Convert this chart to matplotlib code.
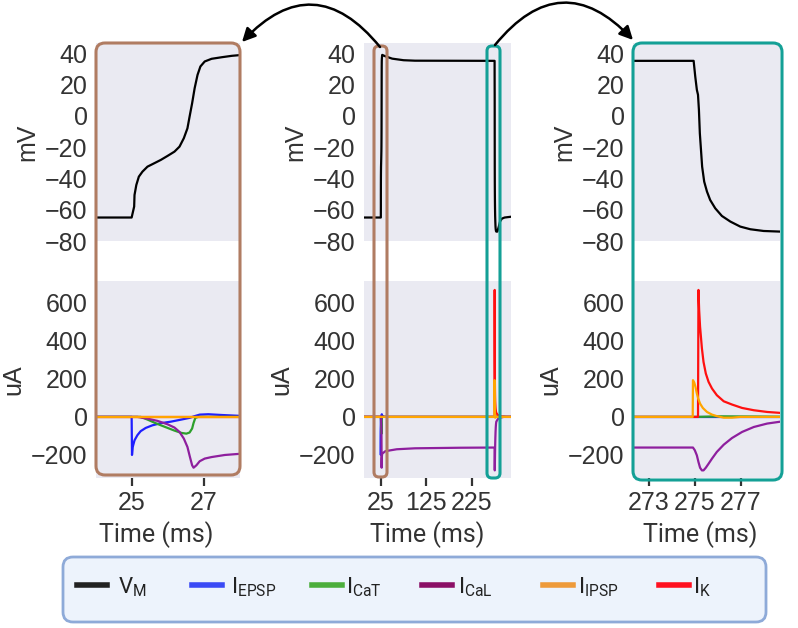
import matplotlib
matplotlib.use('Agg')
import matplotlib.pyplot as plt
from matplotlib.patches import FancyBboxPatch, FancyArrowPatch
from matplotlib.lines import Line2D

plt.rcParams['font.family'] = ['Liberation Sans', 'DejaVu Sans']
plt.rcParams['mathtext.fontset'] = 'custom'
plt.rcParams['mathtext.rm'] = 'Roboto'

# traces, time in ms
vm_t = [-12, 24.99, 25.06, 25.07, 25.12, 25.19, 25.29, 25.43, 25.62, 25.80, 25.99,
        26.18, 26.32, 26.44, 26.54, 26.60, 26.67, 26.74, 26.82, 26.90, 27.02, 27.21,
        27.49, 27.77, 28.06, 35, 50, 75, 100,
        274.94, 275.01, 275.08, 275.13, 275.17, 275.21, 275.26, 275.31, 275.40,
        275.52, 275.66, 275.88, 276.17, 276.54, 276.97, 277.41, 277.99, 278.72,
        281, 284, 287, 291, 297, 311]
vm = [-65, -65, -58, -50.6, -44.2, -38.9, -35.7, -32.5, -30.3, -28.2, -25.6,
      -22.9, -19.7, -14.3, -8, -0.5, 8, 17.6, 26.1, 31.5, 34.7, 36.4,
      37.4, 38.3, 38.9, 38, 36.5, 35.5, 35.2,
      35.1, 25.1, 16.6, 13.4, 3.8, -11.2, -21.8, -32.5, -42.1,
      -48.4, -53.8, -59.1, -64, -67.6, -70.8, -72.5, -73.6, -74,
      -74, -71, -67.5, -65.7, -65, -64.5]

epsp_t = [-12, 24.99, 25.0, 25.02, 25.07, 25.15, 25.24, 25.38, 25.57, 25.80, 26.08,
          26.37, 26.60, 26.74, 26.88, 27.12, 27.49, 28.06, 32, 40, 311]
epsp = [0, 0, -200, -158, -123, -96, -75, -58, -44, -33, -25,
        -14, -5, 4, 12, 14, 10, 5, 1, 0, 0]

cat_t = [-12, 25.24, 25.43, 25.62, 25.80, 25.99, 26.18, 26.37, 26.51, 26.60, 26.67,
         26.71, 26.76, 26.84, 275.1, 276, 278.7, 311]
cat = [0, 0, -14, -30, -44, -58, -72, -84, -88, -82, -61,
       -32, -5, 0, 0, 3, 1, 0]

cal_t = [-12, 25.15, 25.43, 25.71, 25.99, 26.18, 26.32, 26.44, 26.54, 26.61, 26.67,
         26.71, 26.79, 26.88, 27.02, 27.21, 27.58, 28.06, 35, 60, 100, 200,
         274.91, 274.99, 275.08, 275.15, 275.22, 275.30, 275.37, 275.47, 275.59,
         275.74, 275.95, 276.25, 276.61, 277.05, 277.56, 278.14, 278.72,
         282, 287, 295, 311]
cal = [0, 0, -9, -21, -39, -56, -79, -114, -158, -211, -254,
       -267, -254, -233, -219, -211, -200, -193, -180, -170, -165, -162,
       -161, -175, -202, -237, -267, -281, -281, -267, -246,
       -219, -184, -146, -111, -79, -53, -35, -25,
       -12, -4, 0, 0]

ipsp_t = [-12, 274.90, 274.91, 274.97, 275.02, 275.08, 275.14, 275.22, 275.34, 275.52,
          275.74, 275.95, 276.25, 276.61, 276.97, 311]
ipsp = [0, 0, 193, 179, 158, 123, 96, 70, 47, 26, 12, 4, -4, -4, 0, 0]

ik_t = [-12, 275.13, 275.15, 275.18, 275.22, 275.30, 275.37, 275.47, 275.59, 275.74,
        275.95, 276.25, 276.61, 277.05, 277.56, 278.14, 278.72, 282, 290, 300, 311]
ik = [0, 0, 667, 561, 474, 360, 289, 228, 184, 149,
      114, 82, 65, 47, 35, 26, 21, 10, 2, 0, 0]

xlims = [(24, 28), (-12, 311), (272.3, 278.7)]
xticks = [[25, 27], [25, 125, 225], [273, 275, 277]]
vm_ticks = [-80, -60, -40, -20, 0, 20, 40]
ua_ticks = [-200, 0, 200, 400, 600]

# plot colours and legend colours
series = [
    (epsp_t, epsp, '#1f1fff'),
    (cat_t, cat, '#2ca02c'),
    (cal_t, cal, '#8e1f9e'),
    (ik_t, ik, '#ff1010'),
    (ipsp_t, ipsp, '#ffa500'),
]
legend_labels = [r'$\mathrm{V_M}$', r'$\mathrm{I_{EPSP}}$', r'$\mathrm{I_{CaT}}$',
                 r'$\mathrm{I_{CaL}}$', r'$\mathrm{I_{IPSP}}$', r'$\mathrm{I_K}$']
legend_colors = ['#222222', '#3a4af5', '#4cae3c', '#8b0f66', '#ee9a3a', '#ff1020']

W, H = 798, 628
fig = plt.figure(figsize=(W / 100, H / 100), dpi=100)


def frac(x0, y0, x1, y1):
    return [x0 / W, 1 - y1 / H, (x1 - x0) / W, (y1 - y0) / H]


def inch(x, y):
    return (x / 100, (H - y) / 100)


col_x = [(96, 240), (364, 511), (633, 780)]
label_pos = [0.42, 0.43, 0.46]
gray = '#EAEAF2'
tc = '#333333'

for i, (x0, x1) in enumerate(col_x):
    axv = fig.add_axes(frac(x0, 43, x1, 241))
    axi = fig.add_axes(frac(x0, 281, x1, 478))
    axv.plot(vm_t, vm, color='black', lw=1.6)
    for t, v, c in series:
        axi.plot(t, v, color=c, lw=1.6)
    axv.set_ylim(-80, 46.5)
    axi.set_ylim(-321, 714)
    axv.set_yticks(vm_ticks)
    axi.set_yticks(ua_ticks)
    axv.set_xticks([])
    axi.set_xticks(xticks[i])
    for ax in (axv, axi):
        ax.set_xlim(*xlims[i])
        ax.set_facecolor(gray)
        for s in ax.spines.values():
            s.set_visible(False)
        ax.tick_params(axis='y', length=0, pad=6, labelsize=18, labelcolor=tc)
        ax.tick_params(axis='x', length=6, width=1.6, color=tc, pad=3,
                       labelsize=18, labelcolor=tc)
    axv.set_ylabel('mV', fontsize=18, color=tc)
    axi.set_ylabel('uA', fontsize=18, color=tc)
    axi.set_xlabel('Time (ms)', fontsize=18, color=tc, family='Roboto')
    axi.xaxis.set_label_coords(label_pos[i], -0.22)

# zoom boxes
brown = '#b07c62'
teal = '#14a096'
boxes = [(96, 43, 240, 475, brown, 0.09), (633, 43, 782, 480, teal, 0.09),
         (374, 46, 387, 477, brown, 0.05), (487, 46, 500, 478, teal, 0.05)]
for x0, y0, x1, y1, c, r in boxes:
    p = FancyBboxPatch(inch(x0, y1), (x1 - x0) / 100, (y1 - y0) / 100,
                       boxstyle='round,pad=0,rounding_size=%g' % r,
                       transform=fig.dpi_scale_trans, fc='none', ec=c, lw=2.2,
                       zorder=10)
    fig.add_artist(p)

# arrows between panels
for a, b, rad in [((380, 47), (242, 42), 0.57), ((495, 45), (633, 40), -0.57)]:
    arr = FancyArrowPatch(inch(*a), inch(*b), transform=fig.dpi_scale_trans,
                          connectionstyle='arc3,rad=%g' % rad, arrowstyle='-|>',
                          mutation_scale=20, lw=1.8, color='black',
                          shrinkA=0, shrinkB=0, zorder=11)
    fig.add_artist(arr)

# legend panel
leg = FancyBboxPatch(inch(63, 622), (766 - 63) / 100, (622 - 557) / 100,
                     boxstyle='round,pad=0,rounding_size=0.1',
                     transform=fig.dpi_scale_trans, fc='#EDF3FC', ec='#8eaad8',
                     lw=2, zorder=5)
fig.add_artist(leg)
leg_x = [(77, 107, 118), (192, 222, 231), (312, 342, 346), (422, 452, 458),
         (543, 573, 578), (659, 689, 693)]
for (lx0, lx1, tx), lab, c in zip(leg_x, legend_labels, legend_colors):
    fig.add_artist(Line2D([lx0 / 100, lx1 / 100], [(H - 585) / 100] * 2,
                          transform=fig.dpi_scale_trans, color=c, lw=4, zorder=6))
    fig.text(tx / 100, (H - 587) / 100, lab, transform=fig.dpi_scale_trans,
             fontsize=16, color='#222222', va='center', ha='left', zorder=6)

fig.savefig('out.png', dpi=100)
